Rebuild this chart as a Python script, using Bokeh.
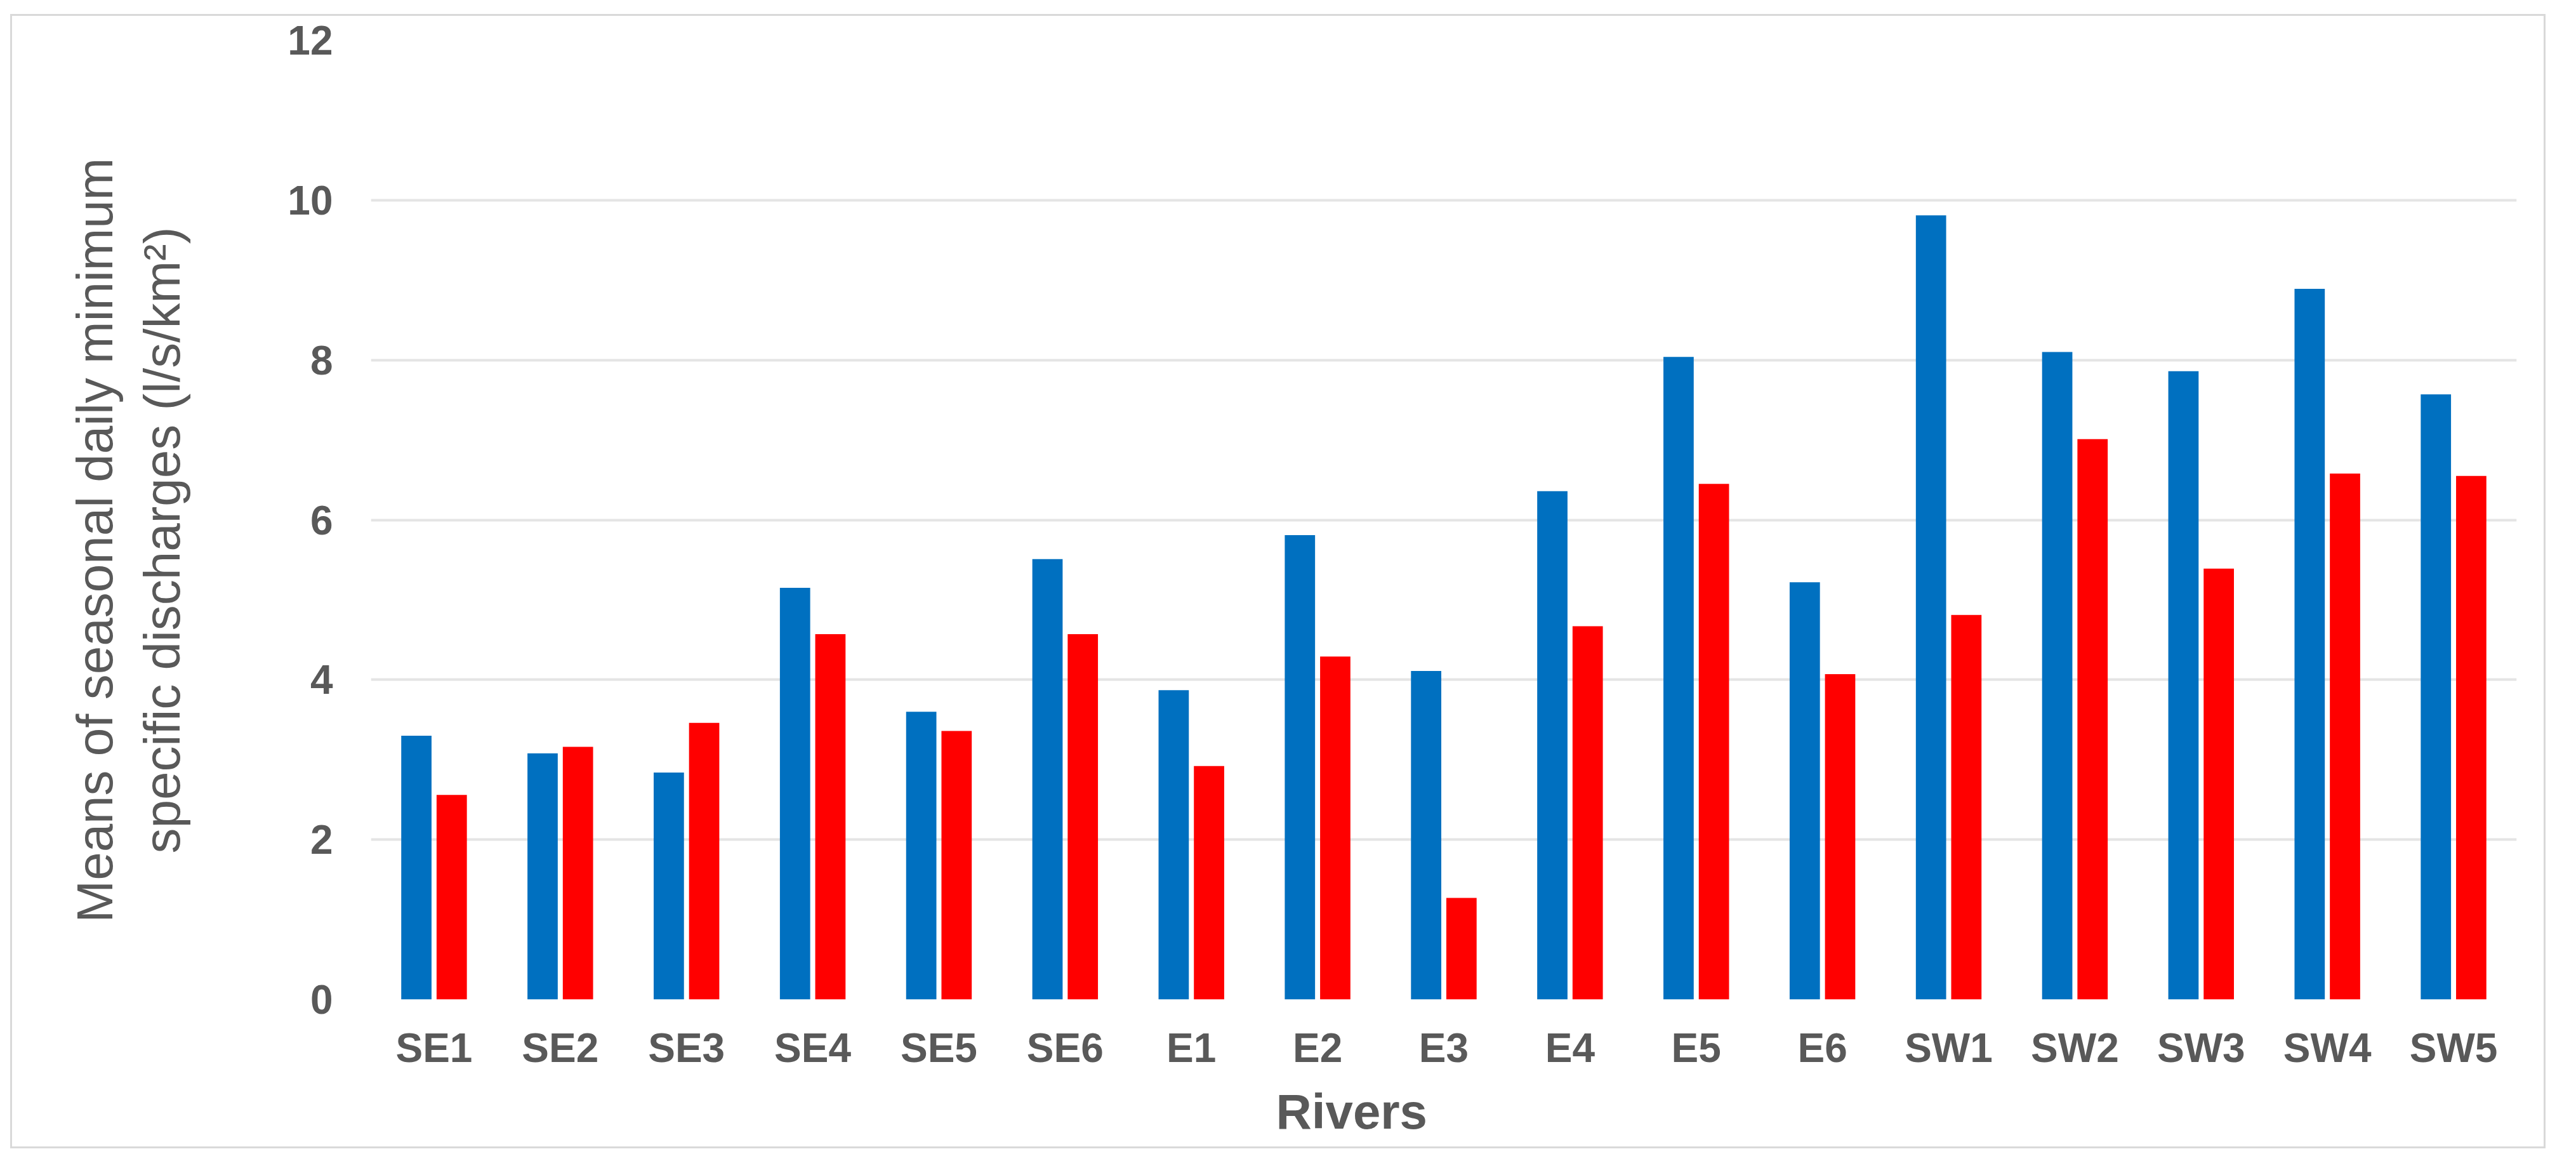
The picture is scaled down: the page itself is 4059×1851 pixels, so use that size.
from bokeh.plotting import figure
from bokeh.models import ColumnDataSource, FactorRange, Range1d, FixedTicker, Title
from bokeh.transform import dodge
from bokeh.embed import file_html
from bokeh.resources import INLINE

# ---- data ----
rivers = ["SE1", "SE2", "SE3", "SE4", "SE5", "SE6", "E1", "E2", "E3", "E4",
          "E5", "E6", "SW1", "SW2", "SW3", "SW4", "SW5"]
blue_values = [3.30, 3.08, 2.84, 5.15, 3.60, 5.51, 3.87, 5.81, 4.11, 6.36,
               8.04, 5.22, 9.81, 8.10, 7.86, 8.89, 7.57]
red_values = [2.56, 3.16, 3.46, 4.57, 3.36, 4.57, 2.92, 4.29, 1.27, 4.67,
              6.45, 4.07, 4.81, 7.01, 5.39, 6.58, 6.55]
y_ticks = [0, 2, 4, 6, 8, 10, 12]
y_title_1 = "Means of seasonal daily minimum"
y_title_2 = "specific discharges (l/s/km\u00b2)"
x_title = "Rivers"

source = ColumnDataSource(data=dict(river=rivers, blue=blue_values, red=red_values))

TXT = "#595959"

p = figure(
    x_range=FactorRange(factors=rivers, range_padding=0),
    y_range=Range1d(0, 12),
    width=3995, height=1787,
    output_backend="svg", toolbar_location=None,
    min_border_left=565, min_border_right=49,
    min_border_top=38, min_border_bottom=238,
)
p.margin = (22, 0, 0, 16)
p.styles = {"border": "3px solid #d9d9d9"}

p.vbar(x=dodge("river", -0.14, range=p.x_range), top="blue", width=0.24,
       source=source, fill_color="#0070C0", line_color=None)
p.vbar(x=dodge("river", 0.14, range=p.x_range), top="red", width=0.24,
       source=source, fill_color="#FF0000", line_color=None)

p.outline_line_color = None
p.background_fill_color = "white"
p.border_fill_color = "white"

p.xgrid.grid_line_color = None
p.ygrid.grid_line_color = "#e4e4e4"
p.ygrid.grid_line_width = 4
p.yaxis.ticker = FixedTicker(ticks=y_ticks)

for ax in (p.xaxis[0], p.yaxis[0]):
    ax.axis_line_color = None
    ax.major_tick_line_color = None
    ax.minor_tick_line_color = None
    ax.major_tick_out = 0
    ax.major_tick_in = 0
    ax.major_label_text_font = "Liberation Sans"
    ax.major_label_text_font_style = "bold"
    ax.major_label_text_font_size = "64px"
    ax.major_label_text_color = TXT

p.yaxis.major_label_standoff = 60
p.xaxis.major_label_standoff = 40

# spacer between the tick labels and the two-line y title
spacer = Title(text=" ", standoff=133, text_font_size="1px")
p.add_layout(spacer, "left")

# y-axis title: two centred lines (line 2 nearer the axis)
t2 = Title(text=y_title_2, align="left", offset=230, standoff=30,
           text_font="Liberation Sans", text_font_style="normal",
           text_font_size="80px", text_color=TXT)
t1 = Title(text=y_title_1, align="left", offset=121, standoff=0,
           text_font="Liberation Sans", text_font_style="normal",
           text_font_size="80px", text_color=TXT)
p.add_layout(t2, "left")
p.add_layout(t1, "left")

tx = Title(text=x_title, align="left", offset=1426, standoff=30,
           text_font="Liberation Sans", text_font_style="bold",
           text_font_size="78px", text_color=TXT)
p.add_layout(tx, "below")

with open("out.html", "w") as f:
    f.write(file_html(p, INLINE))
